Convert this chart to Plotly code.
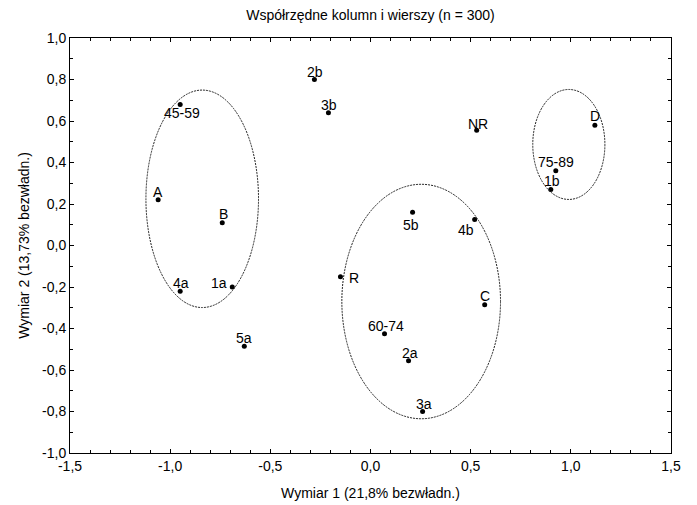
import plotly.graph_objects as go

# ---- data ----
labels = ["45-59", "A", "B", "4a", "1a", "5a", "2b", "3b", "NR", "5b", "4b",
          "R", "C", "60-74", "2a", "3a", "D", "75-89", "1b"]
dim1 = [-0.95, -1.06, -0.74, -0.95, -0.69, -0.63, -0.28, -0.21, 0.53, 0.21, 0.52,
        -0.15, 0.57, 0.07, 0.19, 0.26, 1.12, 0.925, 0.90]
dim2 = [0.68, 0.22, 0.11, -0.22, -0.20, -0.485, 0.80, 0.64, 0.555, 0.16, 0.125,
        -0.15, -0.285, -0.425, -0.555, -0.80, 0.58, 0.36, 0.27]

# ellipse groups (centre x, centre y, radius x, radius y) in data units
ell_cx = [-0.84, 0.253, 0.99]
ell_cy = [0.225, -0.27, 0.487]
ell_rx = [0.281, 0.396, 0.18]
ell_ry = [0.524, 0.565, 0.265]

x_ticks = [-1.5, -1.0, -0.5, 0.0, 0.5, 1.0, 1.5]
x_tick_labels = ["-1,5", "-1,0", "-0,5", "0,0", "0,5", "1,0", "1,5"]
y_ticks = [-1.0, -0.8, -0.6, -0.4, -0.2, 0.0, 0.2, 0.4, 0.6, 0.8, 1.0]
y_tick_labels = ["-1,0", "-0,8", "-0,6", "-0,4", "-0,2", "0,0", "0,2", "0,4", "0,6", "0,8", "1,0"]

title_text = "Współrzędne kolumn i wierszy (n = 300)"
x_title = "Wymiar 1 (21,8% bezwładn.)"
y_title = "Wymiar 2 (13,73% bezwładn.)"

# label pixel offsets (style): (dx right, dy up)
label_offsets = {
    "45-59": (2, -9), "A": (0, 8), "B": (1, 9), "4a": (1, 8), "1a": (-13, 4),
    "5a": (0, 8), "2b": (1, 8), "3b": (1, 8), "NR": (1, 6), "5b": (-2, -13),
    "4b": (-9, -10), "R": (14, -1), "C": (0, 9), "60-74": (1, 8), "2a": (1, 8),
    "3a": (1, 8), "D": (0, 9), "75-89": (0, 9), "1b": (1, 8),
}

FONT = "Liberation Sans, Arial, sans-serif"
FS = 14

fig = go.Figure()
fig.add_trace(go.Scatter(
    x=dim1, y=dim2, mode="markers",
    marker=dict(color="black", size=5),
    hoverinfo="text", text=labels, showlegend=False,
))

for lab, xv, yv in zip(labels, dim1, dim2):
    dx, dy = label_offsets[lab]
    fig.add_annotation(x=xv, y=yv, text=lab, showarrow=False,
                       xshift=dx, yshift=dy,
                       font=dict(family=FONT, size=FS, color="black"))

for cx, cy, rx, ry in zip(ell_cx, ell_cy, ell_rx, ell_ry):
    fig.add_shape(type="circle", xref="x", yref="y",
                  x0=cx - rx, x1=cx + rx, y0=cy - ry, y1=cy + ry,
                  line=dict(color="#222222", width=1, dash="2px,1px"))

axis_common = dict(
    showgrid=False, zeroline=False, showline=True, linecolor="black",
    linewidth=1, mirror="allticks", ticks="inside", ticklen=4,
    tickcolor="black", tickfont=dict(family=FONT, size=FS, color="black"),
    automargin=False,
)

fig.update_xaxes(range=[-1.5, 1.5], tickmode="array", tickvals=x_ticks,
                 ticktext=x_tick_labels,
                 minor=dict(tick0=0, dtick=0.1, ticks="inside", ticklen=3,
                            tickcolor="black"),
                 title=dict(text=x_title, standoff=15,
                            font=dict(family=FONT, size=FS, color="black")),
                 **axis_common)
fig.update_yaxes(range=[-1.0, 1.0], tickmode="array", tickvals=y_ticks,
                 ticktext=y_tick_labels,
                 minor=dict(tick0=0, dtick=0.1, ticks="inside", ticklen=3,
                            tickcolor="black"),
                 title=dict(text=y_title, standoff=9,
                            font=dict(family=FONT, size=FS, color="black")),
                 **axis_common)

fig.update_layout(
    width=697, height=505,
    margin=dict(l=70, r=26, t=38, b=52),
    paper_bgcolor="white", plot_bgcolor="white",
    font=dict(family=FONT, size=FS, color="black"),
    title=dict(text=title_text, x=0.5, xref="paper", xanchor="center",
               y=1 - 15 / 505, yref="container", yanchor="middle",
               font=dict(family=FONT, size=FS, color="black")),
)

fig.write_html("out.html")
